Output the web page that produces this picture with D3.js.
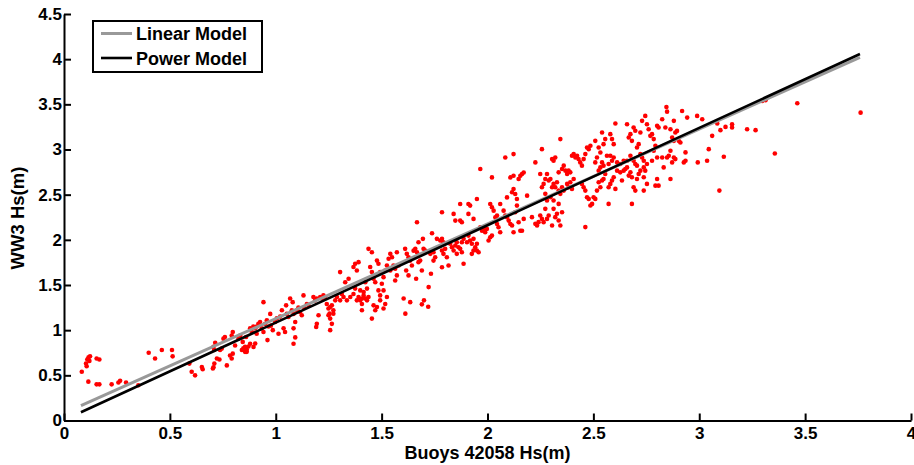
<!DOCTYPE html>
<html>
<head>
<meta charset="utf-8">
<script src="https://d3js.org/d3.v7.min.js"></script>
<style>
  html, body { margin: 0; padding: 0; background: #fff; }
  svg { display: block; }
  text { font-family: "Liberation Sans", Arial, sans-serif; font-weight: bold; fill: #000; }
</style>
</head>
<body>
<svg id="chart" width="914" height="465"></svg>
<script>
// ---- data ----
const xTicks = [0, 0.5, 1, 1.5, 2, 2.5, 3, 3.5, 4];
const yTicks = [0, 0.5, 1, 1.5, 2, 2.5, 3, 3.5, 4, 4.5];
const legendLabels = ["Linear Model", "Power Model"];
const xLabel = "Buoys 42058 Hs(m)";
const yLabel = "WW3 Hs(m)";

// fitted model lines
const linearX = [0.080, 3.759];
const linearY = [0.164, 4.021];
const powerX = [0.080, 1.0, 2.0, 3.0, 3.759];
const powerY = [0.091, 1.083, 2.161, 3.240, 4.057];

// observations: [buoy Hs, WW3 Hs]
const obs = [
[0.084,0.54],[0.104,0.63],[0.110,0.675],[0.116,0.70],[0.123,0.71],[0.107,0.60],[0.120,0.66],[0.154,0.686],[0.167,0.675],[0.115,0.43],[0.154,0.40],[0.167,0.40],[0.225,0.40],[0.257,0.42],[0.265,0.44],[0.293,0.42],[0.351,0.39],[0.40,0.75],[0.43,0.686],[0.462,0.78],[0.51,0.78],[0.513,0.71],[0.592,0.63],
[0.603,0.54],[0.619,0.50],[0.651,0.593],[0.655,0.567],[0.706,0.59],[0.71,0.63],[0.703,0.575],[0.722,0.686],[0.734,0.675],[0.709,0.78],[0.706,0.815],[0.714,0.86],[0.737,0.78],[0.745,0.796],[0.753,0.906],[0.76,0.925],[0.769,0.61],[0.784,0.72],[0.792,0.686],[0.797,0.74],[0.792,0.94],[0.797,0.98],[0.808,0.83],[0.824,0.906],[0.832,0.94],[0.84,0.78],[0.847,0.80],[0.855,0.815],[0.863,0.785],[0.871,0.82],[0.879,0.85],[0.863,0.76],[0.855,0.76],[0.844,0.87],[0.86,0.925],[0.879,1.02],[0.887,0.98],[0.894,1.04],[0.902,1.02],[0.91,1.04],[0.91,0.96],[0.918,1.07],[0.926,1.09],[0.934,1.02],[0.942,0.98],[0.942,1.31],[0.950,1.07],[0.958,1.11],[0.961,0.89],[0.966,1.04],[0.974,1.18],[0.977,1.05],[0.986,1.00],[0.997,1.09],[1.005,1.13],[1.013,0.96],[1.021,1.15],[1.029,1.22],[1.037,1.02],[1.044,0.98],[1.049,1.275],[1.052,1.18],[1.06,1.145],[1.068,1.35],[1.076,1.22],[1.08,1.31],[1.084,1.18],[1.092,1.09],[1.1,1.22],[1.107,1.25],[1.115,1.20],[1.123,1.165],[1.131,1.385],[1.134,1.25],[1.147,1.29],[1.155,1.27],[1.084,1.02],[0.903,0.852],[0.895,0.815],
[1.084,0.85],[1.092,0.92],
[1.178,1.367],[1.186,1.33],[1.194,1.35],[1.202,1.165],[1.194,1.07],[1.191,1.035],[1.21,1.367],[1.218,1.35],[1.225,1.385],[1.233,1.367],[1.241,1.29],[1.249,1.24],[1.257,1.256],[1.265,1.275],[1.272,1.22],[1.249,1.165],[1.257,1.128],[1.254,1.183],[1.265,1.07],[1.257,1.00],[1.272,1.183],[1.281,1.33],[1.289,1.367],
[1.304,1.643],[1.344,1.57],[1.328,1.53],[1.312,1.40],[1.32,1.367],[1.304,1.33],[1.336,1.33],[1.352,1.367],[1.367,1.40],[1.375,1.46],[1.367,1.70],[1.383,1.66],[1.375,1.735],[1.391,1.753],[1.399,1.44],[1.383,1.33],[1.391,1.367],[1.399,1.33],[1.407,1.35],[1.415,1.385],[1.423,1.35],[1.431,1.33],[1.438,1.367],[1.407,1.29],[1.407,1.22],[1.415,1.423],[1.423,1.53],[1.431,1.46],
[1.438,1.90],[1.454,1.863],[1.446,1.70],[1.454,1.643],[1.462,1.57],[1.47,1.53],[1.478,1.77],[1.485,1.735],[1.493,1.643],[1.501,1.514],[1.509,1.44],[1.485,1.44],[1.493,1.385],[1.478,1.256],[1.47,1.22],[1.462,1.275],[1.454,1.128],[1.493,1.33],[1.509,1.587],[1.517,1.66],[1.525,1.716],[1.533,1.79],[1.541,1.845],[1.549,1.808],[1.556,1.716],[1.564,1.68],[1.572,1.606],[1.58,1.716],[1.572,1.863],[1.564,1.55],[1.541,1.66],[1.525,1.367],[1.517,1.29],[1.509,1.24],
[1.604,1.35],[1.612,1.183],[1.635,1.31],[1.69,1.286],[1.72,1.26],[1.70,1.33],
[1.722,1.477],[1.611,1.90],[1.619,1.845],[1.627,1.808],[1.635,1.77],[1.643,1.716],[1.651,1.88],[1.659,1.90],[1.667,1.863],[1.674,1.753],[1.682,1.77],[1.663,1.57],[1.69,1.66],[1.698,1.90],[1.706,1.88],[1.73,1.845],[1.738,1.88],[1.745,1.863],[1.733,1.625],[1.753,1.808],[1.745,1.77],[1.616,1.66],[1.627,1.606],
[1.667,2.194],[1.674,1.974],[1.695,2.011],[1.738,2.073],[1.761,2.011],[1.777,1.992],[1.785,2.011],[1.792,1.974],[1.785,1.882],[1.792,1.845],[1.80,1.90],[1.785,1.697],[1.816,1.716],[1.808,1.808],[1.824,1.956],[1.832,1.918],[1.84,1.882],[1.848,1.937],[1.855,1.974],[1.863,1.918],[1.871,1.90],[1.879,1.863],[1.855,1.845],[1.887,1.735],[1.879,1.974],[1.887,2.011],[1.903,1.974],[1.91,2.047],[1.918,1.992],[1.926,1.956],[1.934,2.011],[1.942,1.918],[1.95,1.882],[1.958,1.863],[1.95,1.956],[1.934,1.882],[1.926,1.845],
[1.785,2.305],[1.84,2.287],[1.848,2.213],[1.871,2.213],[1.871,2.397],[1.879,2.194],[1.91,2.397],[1.918,2.379],[1.91,2.287],[1.934,2.232],[1.95,2.452],[1.966,2.784],[1.966,2.139],[1.974,2.10],[1.981,2.121],[1.989,2.084],[1.997,2.121],[2.005,1.992],[2.013,2.029],[2.021,2.047],[2.013,2.397],[2.021,2.36],[2.029,2.323],[2.037,2.25],[2.045,2.268],[2.045,2.176],[2.052,2.139],[2.06,2.397],[2.06,2.084],[2.076,2.323],[2.084,2.268],[2.092,2.25],[2.1,2.213],[2.108,2.176],[2.116,2.158],[2.123,2.084],[2.131,2.305],[2.139,2.379],[2.147,2.194],[2.155,2.10],[2.163,2.10],[2.171,2.232],[2.092,2.47],[2.116,2.526],[2.123,2.563],[2.131,2.507],[2.139,2.452],[2.147,2.673],[2.155,2.71],[2.163,2.728],[2.171,2.746],[2.123,2.71],[2.108,2.691],[2.084,2.912],[2.123,2.949],[2.021,2.691],[2.187,2.489],
[2.210,2.251],[2.226,2.177],[2.234,2.159],[2.241,2.196],[2.249,2.269],[2.257,2.232],[2.265,2.196],[2.273,2.343],[2.281,2.232],[2.289,2.269],[2.305,2.159],[2.312,2.343],[2.32,2.251],[2.328,2.288],[2.336,2.214],[2.344,2.159],[2.352,2.306],[2.336,2.398],[2.312,2.435],[2.297,2.472],[2.281,2.435],[2.273,2.509],[2.257,2.582],[2.265,2.619],[2.273,2.674],[2.281,2.729],[2.289,2.656],[2.297,2.674],[2.305,2.582],[2.312,2.619],[2.32,2.582],[2.328,2.637],[2.336,2.545],[2.344,2.509],[2.352,2.582],[2.36,2.545],[2.249,2.729],[2.257,3.004],[2.226,2.857],[2.305,2.894],[2.312,2.876],[2.32,2.912],[2.336,2.747],[2.344,3.115],[2.352,2.784],[2.36,2.821],[2.368,2.766],[2.376,2.729],[2.383,2.766],[2.391,2.747],[2.376,2.619],[2.383,2.582],[2.391,2.637],[2.399,2.564],[2.407,2.674],[2.399,2.931],[2.407,2.949],[2.415,2.912],[2.423,2.931],[2.43,2.894],[2.438,2.857],[2.446,2.821],[2.454,2.894],[2.462,2.949],[2.47,3.022],[2.478,3.004],[2.486,3.041],[2.446,2.619],[2.454,2.582],[2.462,2.545],[2.47,2.472],[2.478,2.453],[2.462,2.141],[2.486,2.38],[2.494,2.398],[2.501,2.472],[2.509,2.453],[2.517,2.545],[2.525,2.637],[2.533,2.582],[2.541,2.656],[2.548,2.674],[2.556,2.729],[2.525,2.766],[2.533,2.802],[2.541,2.857],[2.548,2.821],[2.509,2.857],[2.517,2.912],[2.509,3.096],[2.525,3.022],[2.533,2.967],[2.541,3.188],[2.548,3.059],[2.556,3.115],[2.564,2.931],[2.572,2.839],[2.58,2.931],[2.588,2.876],[2.596,2.912],[2.572,2.582],[2.58,2.619],[2.588,2.656],[2.596,2.692],[2.604,2.564],[2.572,2.398],[2.612,2.857],[2.619,2.839],[2.627,2.747],[2.635,2.656],[2.643,2.766],[2.651,2.784],[2.659,2.802],[2.667,2.711],[2.675,2.747],[2.682,2.692],[2.69,2.582],[2.698,2.545],[2.682,2.398],[2.604,3.287],[2.58,3.17],[2.588,3.115],[2.596,3.059],[2.659,3.28],[2.667,3.133],[2.675,3.17],[2.682,3.096],[2.69,3.243],[2.698,3.207],[2.706,3.022],[2.714,3.059],[2.722,3.188],[2.73,3.317],[2.722,2.949],[2.73,2.912],[2.738,2.876],[2.745,3.372],[2.753,3.28],[2.761,3.225],[2.769,3.151],[2.777,3.17],[2.785,3.115],[2.793,3.041],[2.801,3.262],[2.808,3.243],[2.785,2.986],[2.801,2.912],[2.777,2.876],[2.753,2.839],[2.738,2.802],[2.745,2.766],[2.738,2.692],[2.753,2.619],[2.738,2.545],[2.722,2.766],[2.706,2.821],[2.714,2.729],[2.801,2.674],[2.808,2.6],[2.793,2.6],[2.706,2.674],[2.675,2.931],[2.69,2.876],[2.698,2.839],[2.659,2.876],[2.643,2.876],[2.627,2.839],[2.612,2.766],
[2.845,3.471],[2.848,3.419],[2.825,3.335],[2.84,3.243],[2.88,3.317],[2.864,3.225],[2.887,3.188],[2.895,3.206],[2.872,3.133],[2.88,3.096],[2.903,3.096],[2.911,3.078],[2.919,3.427],[2.943,3.353],[2.99,3.372],[3.014,3.335],[2.935,2.968],[2.935,2.875],[2.927,2.857],[2.88,2.912],[2.887,2.894],[2.864,2.986],[2.856,2.93],[2.872,2.857],[2.848,2.912],[2.825,2.912],[2.832,2.802],[2.864,2.673],[2.993,2.857],[3.037,2.875],[3.045,3.004],[3.061,3.151],[3.085,3.287],[3.1,3.214],[3.124,3.25],[3.155,3.28],[3.155,3.243],[3.226,3.225],[3.266,3.214],[3.116,2.919],[3.095,2.545],[3.297,3.538],[3.313,3.545],
[3.463,3.512],[3.762,3.408],[3.357,2.956]
];

// ---- layout ----
const svg = d3.select("#chart");
const x = d3.scaleLinear().domain([0, 4]).range([64, 911]);
const y = d3.scaleLinear().domain([0, 4.5]).range([420.5, 14]);

// points
svg.append("g").selectAll("circle").data(obs).join("circle")
  .attr("cx", d => x(d[0])).attr("cy", d => y(d[1]))
  .attr("r", 2.3).attr("fill", "#ff0000");

// model lines
const line = d3.line().x(d => x(d[0])).y(d => y(d[1]));
const linData = linearX.map((v, i) => [v, linearY[i]]);
const powData = powerX.map((v, i) => [v, powerY[i]]);
svg.append("path").datum(linData).attr("d", line)
  .attr("fill", "none").attr("stroke", "#999999").attr("stroke-width", 3);
svg.append("path").datum(powData).attr("d", line)
  .attr("fill", "none").attr("stroke", "#000").attr("stroke-width", 2.6);

// axes
const fmt = d3.format("~g");
const gx = svg.append("g").attr("transform", "translate(0,420.5)")
  .call(d3.axisBottom(x).tickValues(xTicks).tickFormat(fmt).tickSizeInner(-7).tickSizeOuter(0).tickPadding(6));
const gy = svg.append("g").attr("transform", "translate(64,0)")
  .call(d3.axisLeft(y).tickValues(yTicks).tickFormat(fmt).tickSizeInner(-7).tickSizeOuter(0).tickPadding(2));
[gx, gy].forEach(g => {
  g.select(".domain").attr("stroke", "#000").attr("stroke-width", 2);
  g.selectAll(".tick line").attr("stroke", "#000").attr("stroke-width", 2);
  g.selectAll(".tick text").attr("font-size", 17).attr("font-family", null).attr("fill", "#000");
  g.attr("font-family", null).attr("font-size", null);
});

// axis titles
svg.append("text").attr("x", 487.5).attr("y", 458.5).attr("text-anchor", "middle")
  .attr("font-size", 18).text(xLabel);
svg.append("text").attr("transform", "translate(24,218) rotate(-90)").attr("text-anchor", "middle")
  .attr("font-size", 18.5).text(yLabel);

// legend
const lg = svg.append("g");
lg.append("rect").attr("x", 93).attr("y", 21).attr("width", 169).attr("height", 51)
  .attr("fill", "#fff").attr("stroke", "#000").attr("stroke-width", 2);
const legendColors = ["#999999", "#000"];
const legendY = [33.5, 58];
legendLabels.forEach((lab, i) => {
  lg.append("line").attr("x1", 101).attr("x2", 132).attr("y1", legendY[i]).attr("y2", legendY[i])
    .attr("stroke", legendColors[i]).attr("stroke-width", i === 0 ? 3 : 2.6);
  lg.append("text").attr("x", 136).attr("y", legendY[i] + 6.8).attr("font-size", 18).text(lab);
});
</script>
</body>
</html>
